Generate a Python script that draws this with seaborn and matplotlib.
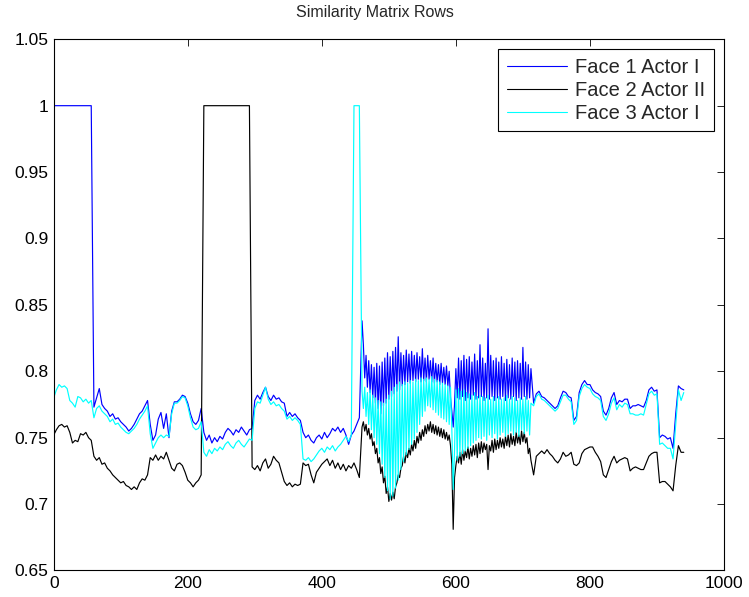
import numpy as np
import pandas as pd
import seaborn as sns
import matplotlib.pyplot as plt

# frame index: every 4th frame, every 2nd frame in the noisy stretch 460-712
frames = np.concatenate([np.arange(0, 460, 4), np.arange(460, 713, 2), np.arange(716, 941, 4)])

# similarity values in thousandths
face1_actor1 = (
    [1000] * 15
    + [773, 780, 787, 775, 772, 770, 766, 768, 764, 765, 762, 760, 758, 755, 757, 760, 764, 768, 770, 774,
       778, 760, 748, 752, 764, 769, 757, 768, 750, 770, 777, 777, 779, 782, 781, 776, 768, 762, 760, 763, 772]
    + [754, 748, 752, 746, 750, 747, 751, 749, 754, 757, 755, 752, 756, 754, 758, 755, 752, 756]
    + [757, 778, 782, 779, 784, 788, 781, 778, 782, 779, 780, 777, 776, 766, 769, 766, 768, 765, 763, 754]
    + [750, 752, 748, 746, 750, 752, 749, 754, 750, 753, 757, 755, 758, 754, 757, 752, 745, 752, 755, 760, 765]
    + [838, 820, 795, 812, 788, 808, 784, 805, 780, 803,
       776, 806, 772, 804, 768, 807, 774, 810, 776, 814,
       779, 811, 781, 815, 783, 818, 785, 826, 786, 814,
       789, 812, 790, 816, 792, 813, 791, 815, 793, 812,
       792, 814, 794, 811, 792, 817, 793, 810, 792, 812,
       794, 808, 792, 810, 791, 806, 792, 805, 790, 806,
       791, 803, 790, 804, 789, 800, 780, 770, 758, 775,
       802, 780, 810, 779, 808, 781, 812, 778, 809, 780,
       811, 779, 807, 782, 813, 779, 808, 780, 820, 781,
       810, 778, 806, 780, 832, 779, 812, 781, 808, 778,
       810, 780, 807, 779, 811, 781, 806, 778, 809, 780,
       805, 779, 810, 781, 807, 778, 808, 780, 806, 779,
       818, 781, 807, 779, 805, 780, 802]
    + [776, 783, 785, 781, 780, 778, 776, 774, 772, 774, 780, 785, 784, 781, 780, 763, 766, 784, 790, 793,
       790, 790, 786, 784, 783, 781, 770, 767, 772, 780, 784, 775, 778, 777, 779, 779, 772, 774, 774, 775,
       774, 773, 778, 786, 788, 785, 786, 750, 752, 751, 749, 750, 742, 768, 789, 787, 786]
)

face2_actor2 = (
    [752, 756, 759, 760, 758, 759, 754, 746, 748, 747, 753, 752, 754, 750, 748]
    + [736, 733, 735, 730, 731, 727, 725, 722, 720, 718, 716, 717, 714, 713, 711, 713, 711, 716, 719, 718,
       722, 735, 733, 737, 733, 736, 734, 739, 733, 727, 725, 730, 731, 729, 724, 718, 716, 713, 716, 718, 722]
    + [1000] * 18
    + [728, 726, 729, 725, 731, 734, 727, 730, 736, 733, 731, 724, 717, 714, 716, 713, 715, 714, 715, 731]
    + [729, 730, 722, 716, 724, 727, 730, 732, 734, 729, 733, 727, 731, 726, 730, 725, 729, 727, 731, 726, 720]
    + [758, 762, 755, 760, 752, 757, 749, 753, 744, 747,
       738, 742, 731, 735, 723, 728, 716, 721, 708, 713,
       702, 708, 703, 709, 704, 713, 716, 722, 720, 727,
       729, 736, 731, 739, 735, 742, 737, 745, 740, 748,
       742, 751, 746, 754, 748, 756, 751, 759, 753, 760,
       755, 762, 754, 760, 753, 759, 752, 758, 751, 757,
       750, 756, 749, 754, 748, 752, 744, 730, 681, 720,
       729, 736, 731, 739, 730, 741, 733, 740, 735, 743,
       734, 742, 736, 744, 737, 745, 735, 746, 738, 747,
       739, 746, 741, 745, 726, 744, 740, 748, 739, 749,
       741, 748, 742, 750, 743, 749, 742, 751, 744, 752,
       743, 753, 745, 751, 744, 754, 746, 752, 745, 755,
       747, 754, 746, 750, 738, 742, 733]
    + [722, 736, 738, 740, 738, 741, 738, 736, 733, 731, 734, 739, 736, 737, 739, 730, 729, 731, 738, 741,
       742, 743, 743, 739, 736, 732, 722, 720, 726, 732, 736, 731, 733, 734, 735, 734, 725, 727, 728, 727,
       726, 726, 731, 736, 738, 739, 739, 716, 717, 717, 715, 713, 710, 729, 744, 739, 739]
)

face3_actor1 = (
    [780, 786, 790, 788, 789, 787, 778, 776, 773, 781, 780, 777, 779, 776, 778]
    + [765, 772, 774, 770, 768, 766, 762, 764, 760, 761, 758, 756, 754, 753, 755, 757, 760, 764, 767, 770,
       774, 753, 742, 746, 750, 752, 750, 752, 751, 768, 776, 776, 778, 781, 780, 774, 765, 758, 756, 757, 762]
    + [739, 736, 741, 738, 742, 740, 743, 741, 745, 747, 744, 742, 746, 748, 745, 743, 746, 749]
    + [748, 772, 777, 776, 782, 788, 779, 775, 777, 774, 775, 772, 770, 764, 766, 763, 765, 763, 760, 734]
    + [733, 735, 732, 734, 737, 740, 742, 739, 743, 741, 744, 740, 743, 745, 748, 751, 747, 752, 1000, 1000, 1000]
    + [785, 772, 788, 766, 784, 760, 786, 756, 782, 750,
       780, 745, 778, 738, 777, 730, 776, 720, 779, 710,
       782, 704, 785, 706, 788, 712, 790, 718, 792, 726,
       790, 732, 792, 737, 791, 741, 793, 745, 792, 749,
       794, 754, 793, 760, 795, 766, 794, 770, 795, 774,
       794, 773, 796, 771, 794, 769, 793, 767, 792, 765,
       791, 764, 790, 762, 789, 760, 788, 756, 711, 740,
       786, 733, 787, 736, 785, 738, 786, 740, 784, 742,
       783, 744, 782, 746, 784, 748, 781, 750, 782, 749,
       781, 751, 780, 748, 782, 752, 779, 750, 781, 753,
       780, 749, 781, 752, 779, 754, 780, 751, 782, 753,
       779, 755, 781, 752, 780, 754, 778, 751, 780, 756,
       779, 753, 781, 755, 778, 752, 776]
    + [774, 781, 783, 779, 778, 776, 774, 772, 770, 772, 777, 782, 782, 779, 777, 760, 763, 781, 787, 790,
       788, 787, 783, 781, 780, 778, 766, 763, 768, 776, 780, 771, 775, 773, 776, 775, 768, 768, 767, 767,
       768, 767, 775, 783, 785, 782, 783, 745, 746, 744, 742, 742, 734, 760, 786, 778, 784]
)

labels = ['Face 1 Actor I', 'Face 2 Actor II', 'Face 3 Actor I']
colors = ['#0000ff', '#000000', '#00ffff']

series = [face1_actor1, face2_actor2, face3_actor1]
for s in series:
    assert len(s) == len(frames), (len(s), len(frames))

df = pd.DataFrame({
    'frame': np.tile(frames, 3),
    'similarity': np.concatenate(series) / 1000,
    'row': np.repeat(labels, len(frames)),
})

sns.set_style('white')
plt.rcParams['font.family'] = ['Liberation Sans', 'DejaVu Sans']

fig = plt.figure(figsize=(7.49, 5.97), dpi=100)
ax = fig.add_axes([0.0717, 0.0444, 0.8949, 0.8898])

sns.lineplot(data=df, x='frame', y='similarity', hue='row', palette=colors,
             linewidth=0.85, ax=ax, sort=False)

ax.set_xlim(0, 1000)
ax.set_ylim(0.65, 1.05)
ax.set_xticks(range(0, 1001, 200))
yt = [0.65, 0.7, 0.75, 0.8, 0.85, 0.9, 0.95, 1.0, 1.05]
ax.set_yticks(yt)
ax.set_yticklabels(['0.65', '0.7', '0.75', '0.8', '0.85', '0.9', '0.95', '1', '1.05'])
ax.set_xlabel('')
ax.set_ylabel('')
ax.tick_params(direction='in', top=True, right=True, length=5, width=0.6,
               labelsize=12.5, colors='black', pad=4)
for sp in ax.spines.values():
    sp.set_color('black')
    sp.set_linewidth(0.8)

ax.set_title('Similarity Matrix Rows', fontsize=11.5, x=0.479, pad=16)

leg = ax.legend(loc='upper right', fontsize=14.5, handlelength=3.0, fancybox=False,
                edgecolor='black', framealpha=1, borderaxespad=0.5,
                borderpad=0.42, labelspacing=0.2, handletextpad=0.4)
leg.get_frame().set_linewidth(0.8)
for h in leg.get_lines():
    h.set_linewidth(0.8)

fig.savefig('out.png', dpi=100)
